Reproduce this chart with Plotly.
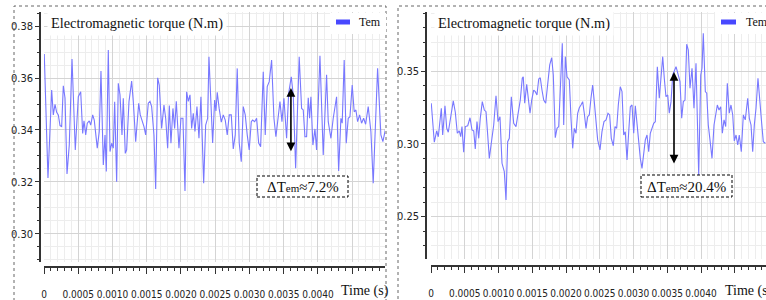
import plotly.graph_objects as go

# ---------------- data (time in units of 1e-4 s, torque in N.m) ----------------
left_time_1e4 = [0.04,0.58,1.12,1.36,1.61,1.85,2.09,2.34,2.58,2.82,3.07,3.36,3.69,4.09,4.57,5.01,5.36,5.65,5.84,6.09,
 6.32,6.61,6.82,7.11,7.34,7.78,8.07,8.32,8.66,8.91,9.10,9.39,9.64,9.88,10.12,10.32,10.61,10.85,11.10,11.39,
 11.58,11.87,12.07,12.41,12.80,13.04,13.39,13.83,14.06,14.35,14.60,14.85,15.23,15.48,15.72,16.06,16.31,16.60,16.83,17.18,
 17.52,17.77,18.06,18.30,18.54,18.83,19.08,19.32,19.71,20.00,20.29,20.59,20.83,21.07,21.32,21.56,21.80,22.05,22.34,22.63,
 22.92,23.32,23.61,23.90,24.09,24.63,24.92,25.11,25.30,25.59,25.89,26.18,26.47,26.76,27.05,27.35,27.64,27.93,28.22,28.51,
 28.81,29.10,29.39,29.68,29.97,30.27,30.47,30.76,31.05,31.35,31.64,32.02,32.31,32.60,32.89,33.24,33.58,33.87,34.16,34.46,
 34.75,35.04,35.43,35.73,36.11,36.40,36.75,37.27,37.62,37.86,38.11,38.35,38.59,38.79,38.98,39.27,39.57,39.81,40.30,40.78,
 41.27,41.51,41.90,42.24,42.73,43.03,43.36,43.55,43.84,44.14,44.43,44.68,45.01,45.30,45.55,45.80,46.09,46.38,46.68,46.97,
 47.35,47.74,48.08,48.72,49.20,49.49,50.00]
left_tem = [0.3692,0.3215,0.3554,0.3458,0.3499,0.3468,0.3458,0.3417,0.3413,0.3570,0.3523,0.3231,0.3342,0.3673,0.3323,0.3528,0.3547,0.3387,0.3435,0.3381,
 0.3426,0.3435,0.3419,0.3458,0.3438,0.3330,0.3394,0.3627,0.3265,0.3381,0.3240,0.3708,0.3317,0.3349,0.3330,0.3509,0.3201,0.3580,0.3535,0.3381,
 0.3522,0.3310,0.3323,0.3509,0.3588,0.3510,0.3355,0.3503,0.3458,0.3435,0.3413,0.3381,0.3503,0.3510,0.3490,0.3381,0.3173,0.3601,0.3573,0.3406,
 0.3496,0.3445,0.3330,0.3494,0.3349,0.3483,0.3406,0.3510,0.3330,0.3445,0.3445,0.3165,0.3547,0.3510,0.3535,0.3406,0.3464,0.3394,0.3490,0.3368,
 0.3528,0.3195,0.3419,0.3445,0.3682,0.3350,0.3515,0.3473,0.3545,0.3481,0.3430,0.3458,0.3438,0.3381,0.3458,0.3458,0.3327,0.3381,0.3637,0.3350,
 0.3278,0.3490,0.3458,0.3381,0.3323,0.3432,0.3438,0.3432,0.3445,0.3350,0.3336,0.3624,0.3381,0.3567,0.3586,0.3669,0.3445,0.3374,0.3451,0.3509,
 0.3432,0.3522,0.3368,0.3541,0.3605,0.3535,0.3253,0.3682,0.3483,0.3477,0.3374,0.3374,0.3524,0.3445,0.3528,0.3342,0.3404,0.3323,0.3686,0.3304,
 0.3612,0.3432,0.3368,0.3445,0.3528,0.3242,0.3445,0.3426,0.3669,0.3349,0.3445,0.3451,0.3573,0.3470,0.3477,0.3432,0.3458,0.3426,0.3445,0.3422,
 0.3490,0.3394,0.3195,0.3637,0.3381,0.3355,0.3420]

right_time_1e4 = [0.04,0.49,0.84,1.08,1.53,1.73,2.07,2.33,2.56,2.96,3.30,3.60,3.90,4.19,4.40,4.59,4.84,5.08,5.44,5.78,
 6.07,6.33,6.56,6.81,7.07,7.30,7.60,7.90,8.15,8.40,8.64,8.93,9.29,9.63,9.93,10.22,10.52,10.86,11.11,11.36,
 11.60,11.90,12.25,12.59,12.93,13.23,13.52,13.67,13.88,14.18,14.41,14.67,14.92,15.21,15.45,15.70,15.96,16.19,16.44,16.70,
 16.99,17.29,17.59,17.88,18.12,18.41,18.67,18.92,19.16,19.45,19.66,19.90,20.15,20.49,20.74,20.99,21.23,21.48,21.73,21.97,
 22.22,22.47,22.71,22.96,23.21,23.45,23.70,23.95,24.19,24.44,24.69,25.04,25.33,25.63,25.93,26.22,26.47,26.71,27.01,27.26,
 27.51,27.75,28.04,28.30,28.55,28.78,29.04,29.29,29.53,29.78,30.03,30.27,30.52,30.77,31.01,31.26,31.51,31.75,32.00,32.25,
 32.49,32.74,32.99,33.23,33.53,33.82,34.07,34.33,34.56,34.81,35.07,35.30,35.56,35.81,36.30,36.59,36.89,37.14,37.38,37.63,
 37.88,38.12,38.37,38.67,38.96,39.26,39.45,39.66,39.96,40.15,40.34,40.64,40.85,41.08,41.33,41.63,41.93,42.22,42.42,42.67,
 42.92,43.16,43.41,43.66,43.90,44.19,44.44,44.70,44.93,45.19,45.44,45.67,45.97,46.27,46.56,46.92,47.16,47.41,47.66,47.90,
 48.15,48.44,48.74,48.99,49.23,49.53]
right_tem = [0.3281,0.3012,0.3090,0.3050,0.3246,0.3062,0.3264,0.3108,0.3081,0.3200,0.3297,0.3219,0.3074,0.3090,0.3050,0.3120,0.2943,0.3120,0.3126,0.3181,
 0.3097,0.3090,0.2966,0.3154,0.3039,0.3177,0.3292,0.3234,0.3223,0.3062,0.2901,0.3005,0.3131,0.3333,0.3154,0.3188,0.2867,0.2809,0.2614,0.3016,
 0.3039,0.3326,0.3143,0.3120,0.3223,0.3303,0.3453,0.3464,0.3281,0.3412,0.3315,0.3212,0.3303,0.3372,0.3361,0.3338,0.3448,0.3457,0.3372,0.3303,
 0.3281,0.3407,0.3545,0.3595,0.3476,0.3043,0.3108,0.3120,0.3430,0.3694,0.3131,0.3602,0.3464,0.3441,0.3177,0.2970,0.3108,0.3074,0.3212,0.3250,
 0.3269,0.3292,0.3212,0.3108,0.3188,0.3200,0.3315,0.3407,0.3292,0.3154,0.3028,0.2959,0.3085,0.3154,0.3166,0.3212,0.3200,0.3039,0.2988,0.3120,
 0.3108,0.3269,0.3395,0.3361,0.3062,0.3085,0.2890,0.3085,0.3257,0.3269,0.3074,0.3264,0.3131,0.3016,0.2901,0.2832,0.2924,0.3028,0.3062,0.2947,
 0.3074,0.3108,0.3143,0.3154,0.3533,0.3315,0.3441,0.3602,0.3453,0.3326,0.3338,0.3212,0.3292,0.3476,0.3533,0.3488,0.3430,0.3177,0.3292,0.3303,
 0.3688,0.3648,0.3384,0.3522,0.3246,0.3557,0.3257,0.2786,0.3476,0.3522,0.3763,0.3361,0.3350,0.3131,0.3028,0.2901,0.3131,0.3212,0.3269,0.3234,
 0.3257,0.3074,0.3166,0.3120,0.3419,0.3212,0.3269,0.3200,0.3021,0.3062,0.2993,0.3062,0.2947,0.3200,0.3166,0.3315,0.3177,0.3131,0.2947,0.3131,
 0.3246,0.3453,0.3246,0.3143,0.3016,0.3005]

x_tick_vals = [0, 0.0005, 0.0010, 0.0015, 0.0020, 0.0025, 0.0030, 0.0035, 0.0040, 0.0045]
x_tick_text = ["0", "0.0005", "0.0010", "0.0015", "0.0020", "0.0025", "0.0030", "0.0035", "0.0040", ""]

panel_title = "Electromagnetic torque (N.m)"
series_name = "Tem"
ripple_left = "ΔT<span style='font-size:11px'>em</span>≈7.2%"
ripple_right = "ΔT<span style='font-size:11px'>em</span>≈20.4%"
# arrow endpoints (time s, torque)
arrow_left = (0.003606, 0.3562, 0.3312)
arrow_right = (0.00360, 0.3497, 0.2855)

left_t = [v * 1e-4 for v in left_time_1e4]
right_t = [v * 1e-4 for v in right_time_1e4]

W, H = 766, 300
def px(x): return x / W
def py(y): return 1 - y / H

LINE = "rgb(120,120,255)"
SWATCH = "rgb(72,72,255)"
FAM = "Liberation Sans Narrow, DejaVu Sans Condensed, Arial Narrow, Liberation Sans, sans-serif"
XTICKFONT = dict(family=FAM, size=10, color="#222")
YTICKFONT = dict(family=FAM, size=11, color="#222")
SERIF = "Liberation Serif, Times New Roman, serif"

fig = go.Figure()
fig.add_trace(go.Scatter(x=left_t, y=left_tem, mode="lines", line=dict(color=LINE, width=1.1),
                         name=series_name, showlegend=False, xaxis="x", yaxis="y"))
fig.add_trace(go.Scatter(x=right_t, y=right_tem, mode="lines", line=dict(color=LINE, width=1.1),
                         name=series_name, showlegend=False, xaxis="x2", yaxis="y2"))

def xax(domain, rng, pos):
    return dict(domain=domain, range=rng, anchor="free", position=pos, automargin=False,
                showline=True, linecolor="#333", linewidth=1.5,
                ticks="outside", ticklen=6, tickwidth=1, tickcolor="#333",
                tickmode="array", tickvals=x_tick_vals, ticktext=x_tick_text,
                tickfont=XTICKFONT, tickangle=0, ticklabelstandoff=12,
                showgrid=True, gridcolor="#d4d4d4", gridwidth=1, zeroline=False,
                minor=dict(tickmode="linear", tick0=0, dtick=0.0001, ticks="outside", ticklen=3,
                           tickcolor="#333", showgrid=True, gridcolor="#ededed", gridwidth=1))

def yax(domain, rng, pos, dtick, mdtick):
    return dict(domain=domain, range=rng, anchor="free", position=pos, automargin=False,
                showline=True, linecolor="#333", linewidth=1.5,
                ticks="outside", ticklen=4, tickwidth=1, tickcolor="#333",
                tick0=0, dtick=dtick, tickformat=".2f", tickfont=YTICKFONT,
                showgrid=True, gridcolor="#d4d4d4", gridwidth=1, zeroline=False,
                minor=dict(tick0=0, dtick=mdtick, ticks="outside", ticklen=2,
                           tickcolor="#333", showgrid=True, gridcolor="#ededed", gridwidth=1))

fig.update_layout(
    width=W, height=H, margin=dict(l=0, r=0, t=0, b=0, autoexpand=False),
    paper_bgcolor="white", plot_bgcolor="white", showlegend=False,
    xaxis=xax([px(44), px(385)], [0, 0.00498], py(267)),
    yaxis=yax([py(262), py(12)], [0.2892, 0.3854], px(40), 0.02, 0.005),
    xaxis2=xax([px(431), 1], [0, 0.004963], py(266)),
    yaxis2=yax([py(259), py(12)], [0.2207, 0.391], px(426), 0.05, 0.01),
)

shapes = []
annotations = []
# dotted panel frames
for (x0, x1) in [(14, 386), (398, 780)]:
    shapes.append(dict(type="rect", xref="paper", yref="paper", x0=px(x0), x1=px(x1), y0=py(320), y1=py(6),
                       line=dict(color="#666", width=1, dash="dot"), fillcolor="rgba(0,0,0,0)", layer="above"))

panels = [
    dict(xr="x", yr="y", title_x=47, leg_box=(330, 386), sw=(336, 350), tem_x=357,
         box=(257, 348, 176, 197), txt=ripple_left, arrow=arrow_left, time_x=339),
    dict(xr="x2", yr="y2", title_x=434, leg_box=(715, 766), sw=(721, 736), tem_x=744,
         box=(641, 732, 175, 197), txt=ripple_right, arrow=arrow_right, time_x=723),
]
for p in panels:
    # title
    annotations.append(dict(xref="paper", yref="paper", x=px(p["title_x"]), y=py(23.5), xanchor="left", yanchor="middle",
                            text=panel_title, showarrow=False, bgcolor="white", borderpad=3,
                            font=dict(family=SERIF, size=14.3, color="#111")))
    # legend box + swatch + label
    shapes.append(dict(type="rect", xref="paper", yref="paper", x0=px(p["leg_box"][0]), x1=px(p["leg_box"][1]),
                       y0=py(34), y1=py(13), fillcolor="white", line=dict(width=0), layer="above"))
    shapes.append(dict(type="rect", xref="paper", yref="paper", x0=px(p["sw"][0]), x1=px(p["sw"][1]),
                       y0=py(24.5), y1=py(19.5), fillcolor=SWATCH, line=dict(width=0), layer="above"))
    annotations.append(dict(xref="paper", yref="paper", x=px(p["tem_x"]), y=py(22), xanchor="left", yanchor="middle",
                            text=series_name, showarrow=False, font=dict(family=SERIF, size=12, color="#111")))
    # ripple box
    b = p["box"]
    shapes.append(dict(type="rect", xref="paper", yref="paper", x0=px(b[0]), x1=px(b[1]), y0=py(b[3]), y1=py(b[2]),
                       fillcolor="white", line=dict(color="#000", width=1, dash="3px,2px"), layer="above"))
    annotations.append(dict(xref="paper", yref="paper", x=px((b[0] + b[1]) / 2), y=py((b[2] + b[3]) / 2 + 0.5),
                            xanchor="center", yanchor="middle", text=p["txt"], showarrow=False,
                            font=dict(family=SERIF, size=15, color="#111")))
    # double arrow
    t, ytop, ybot = p["arrow"]
    annotations.append(dict(xref=p["xr"], yref=p["yr"], axref=p["xr"], ayref=p["yr"],
                            x=t, y=ytop, ax=t, ay=ybot, text="", showarrow=True,
                            arrowhead=2, startarrowhead=2, arrowside="end+start",
                            arrowsize=1.1, startarrowsize=1.1, arrowwidth=1.6, arrowcolor="#000"))
    # axis title
    annotations.append(dict(xref="paper", yref="paper", x=px(p["time_x"]), y=py(291), xanchor="left", yanchor="middle",
                            text="Time (s)", showarrow=False, font=dict(family=SERIF, size=14, color="#111")))

fig.update_layout(shapes=shapes, annotations=annotations)
fig.write_html("out.html", config={"displayModeBar": False},
               post_script="document.body.style.margin='0';document.body.style.padding='0';document.body.style.overflow='hidden';")
